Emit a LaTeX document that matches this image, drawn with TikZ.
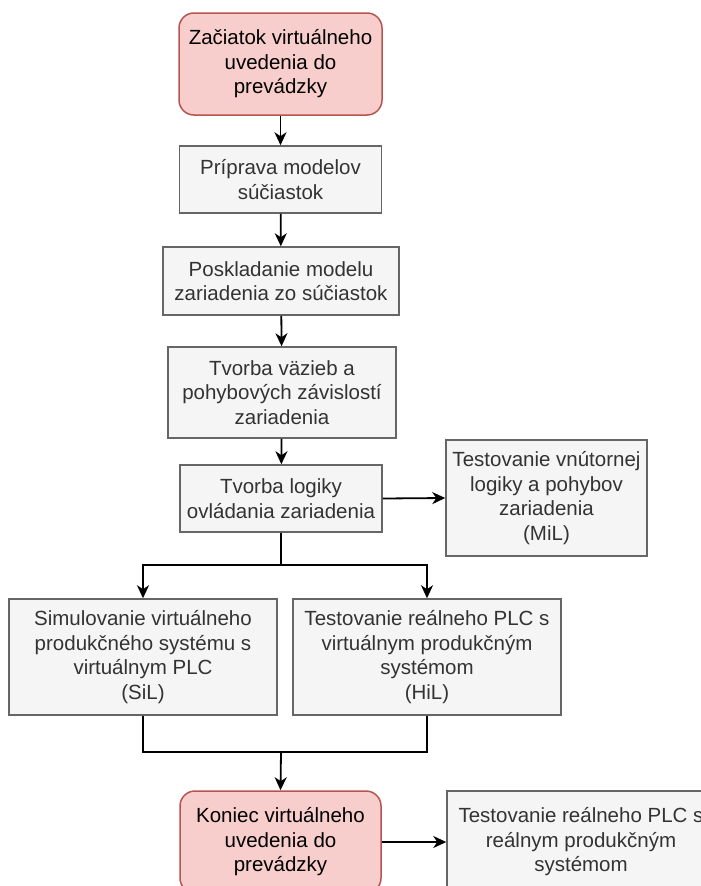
\documentclass[tikz,border=0pt]{standalone}
\usepackage{fontspec}
\setmainfont{Liberation Sans}
\usetikzlibrary{arrows.meta}
\definecolor{pinkfill}{HTML}{F8CECC}
\definecolor{pinkline}{HTML}{B85450}
\definecolor{grayfill}{HTML}{F5F5F5}
\definecolor{grayline}{HTML}{666666}
\definecolor{graytext}{HTML}{333333}
\tikzset{
  box/.style={draw=grayline, fill=grayfill, text=graytext, line width=1.5pt,
    align=center, inner sep=0pt, font=\fontsize{20.5}{24.5}\selectfont},
  termbox/.style={draw=pinkline, fill=pinkfill, text=black, line width=1.5pt,
    rounded corners=15pt, align=center, inner sep=0pt, font=\fontsize{20.5}{24.5}\selectfont},
  conn/.style={draw=black, line width=1.8pt},
  arr/.style={conn, -{Stealth[length=13pt,width=12pt,inset=4pt]}},
}
\begin{document}
\begin{tikzpicture}[x=1pt,y=-1pt]
\useasboundingbox (0,0) rectangle (701,886);
\node[termbox, minimum width=203pt, minimum height=102pt] (start) at (280.5,64)
  {Začiatok virtuálneho\\uvedenia do\\prevádzky};
\node[box, minimum width=202pt, minimum height=67pt] (prip) at (280.5,179.5)
  {Príprava modelov\\súčiastok};
\node[box, minimum width=236pt, minimum height=68pt] (posk) at (281,281)
  {Poskladanie modelu\\zariadenia zo súčiastok};
\node[box, minimum width=228pt, minimum height=91pt] (tvv) at (282,392.5)
  {Tvorba väzieb a\\pohybových závislostí\\zariadenia};
\node[box, minimum width=202pt, minimum height=67pt] (tvl) at (281,498.5)
  {Tvorba logiky\\ovládania zariadenia};
\node[box, minimum width=201pt, minimum height=116pt] (mil) at (546.5,498)
  {Testovanie vnútornej\\logiky a pohybov\\zariadenia\\(MiL)};
\node[box, minimum width=268pt, minimum height=116pt] (sil) at (143,657)
  {Simulovanie virtuálneho\\produkčného systému s\\virtuálnym PLC\\(SiL)};
\node[box, minimum width=268pt, minimum height=116pt] (hil) at (427,657)
  {Testovanie reálneho PLC s\\virtuálnym produkčným\\systémom\\(HiL)};
\node[termbox, minimum width=201pt, minimum height=102pt] (kon) at (280.5,842)
  {Koniec virtuálneho\\uvedenia do\\prevádzky};
\node[box, minimum width=268pt, minimum height=102pt] (real) at (581,842)
  {Testovanie reálneho PLC s\\reálnym produkčným\\systémom};
\coordinate (br) at (281,565);
\coordinate (mg) at (281,752);
\draw[arr] (start) -- (prip);
\draw[arr] (prip) -- (posk);
\draw[arr] (posk) -- (tvv);
\draw[arr] (tvv) -- (tvl);
\draw[arr] (tvl.east) -- (mil.west);
\draw[conn] (tvl.south) -- (br);
\draw[arr] (br) -| (sil.north);
\draw[arr] (br) -| (hil.north);
\draw[conn] (sil.south) |- (mg);
\draw[conn] (hil.south) |- (mg);
\draw[arr] (mg) -- (kon.north);
\draw[arr] (kon.east) -- (real.west);
\end{tikzpicture}
\end{document}
